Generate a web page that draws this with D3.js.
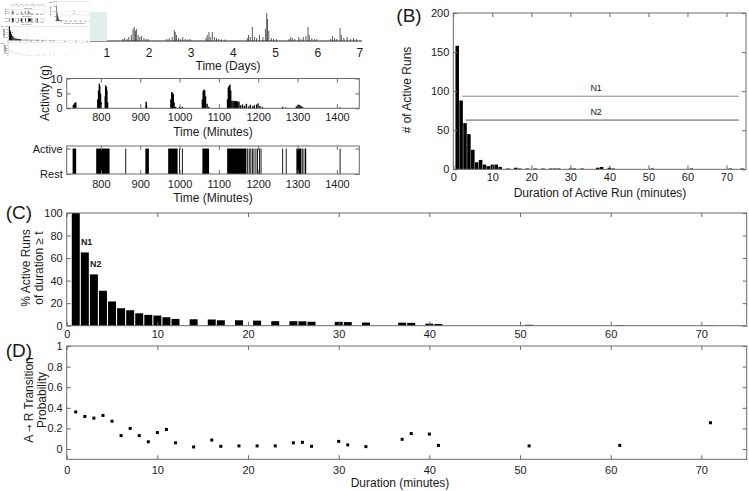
<!DOCTYPE html>
<html>
<head>
<meta charset="utf-8">
<script src="https://cdn.jsdelivr.net/npm/d3@7"></script>
<style>
  body { margin: 0; background: #fff; }
  text { font-family: 'Liberation Sans', Arial, sans-serif; }
</style>
</head>
<body>
<div id="app"></div>
<script>
'use strict'
// ---- data ----
// week-long trace: [day, activity g]
const weekSpikes = [
  [0.62, 2], [0.66, 4], [0.7, 1.5], [0.75, 3], [0.8, 2.5], [0.85, 1], [0.9, 1.5], [0.95, 1],
  [1.38, 1], [1.42, 1.5], [1.48, 1], [1.52, 2], [1.58, 3], [1.62, 6], [1.65, 7], [1.68, 5], [1.7, 6], [1.74, 3], [1.78, 2], [1.82, 2.5], [1.88, 1.5], [1.93, 1], [1.98, 1],
  [2.42, 1], [2.48, 1.5], [2.55, 2], [2.6, 5.5], [2.62, 4.5], [2.65, 3], [2.7, 1.5], [2.75, 1], [2.8, 2], [2.86, 1], [2.92, 0.8], [2.97, 1],
  [3.35, 1.5], [3.38, 3], [3.42, 4.5], [3.45, 2], [3.5, 4.5], [3.55, 2], [3.6, 1.5], [3.65, 1], [3.72, 0.8], [3.8, 0.8],
  [4.33, 1.5], [4.36, 3], [4.4, 2], [4.45, 7], [4.5, 2], [4.55, 1.5], [4.62, 3], [4.7, 2], [4.76, 6], [4.79, 14], [4.81, 11], [4.84, 5], [4.9, 1.5], [4.95, 1], [5.02, 1],
  [5.32, 1], [5.36, 2], [5.4, 1.5], [5.46, 1], [5.55, 2], [5.6, 1], [5.66, 2], [5.72, 2.5], [5.77, 7], [5.8, 3], [5.86, 1.5], [5.92, 1], [5.98, 1],
  [6.3, 1], [6.35, 2.5], [6.4, 1.5], [6.45, 1], [6.53, 6.5], [6.56, 3], [6.62, 1.5], [6.7, 2], [6.78, 1], [6.85, 1.5], [6.92, 1]
]
const dayTicks = [1, 2, 3, 4, 5, 6, 7]

// one afternoon: [minute, activity g]
const activity = [
  [730, 1.2], [733, 1.8], [736, 2.0],
  [792, 3], [794, 6], [796, 8.3], [797, 7.5], [799, 5], [801, 2],
  [811, 4], [812, 7.7], [814, 7.2], [815, 6], [817, 2],
  [915, 2.2], [916, 1],
  [978, 3], [980, 5.5], [982, 5.2], [984, 4.8], [986, 2], [990, 0.5], [1000, 0.5], [1007, 0.5],
  [1058, 3], [1060, 5.8], [1062, 6.3], [1064, 6], [1066, 4], [1070, 1.5], [1074, 0.5],
  [1122, 3], [1124, 7], [1126, 7.5], [1128, 8], [1130, 6], [1133, 2.5], [1136, 2.5], [1139, 2.4], [1142, 2.5], [1145, 2.4], [1148, 2.3], [1151, 2.2],
  [1155, 1], [1160, 1.3], [1165, 0.8], [1170, 1.5], [1176, 0.6], [1180, 1.2], [1186, 0.7], [1190, 1], [1196, 1.3], [1200, 1.6], [1204, 0.8], [1210, 0.4],
  [1262, 0.5], [1270, 0.3],
  [1297, 0.6], [1300, 1], [1303, 1.2], [1306, 1], [1309, 0.8], [1313, 0.4],
  [1408, 0.3]
]
// active runs: [start minute, end minute]
const activeRuns = [
  [728, 737], [788, 822], [862, 863], [913, 922], [971, 995], [999, 1000], [1006, 1007],
  [1058, 1075], [1121, 1170], [1172, 1174], [1176, 1177], [1180, 1182], [1184, 1185],
  [1188, 1190], [1193, 1194], [1197, 1199], [1202, 1204], [1206, 1207],
  [1261, 1262], [1270, 1271], [1297, 1310], [1312, 1315], [1318, 1322], [1407, 1408]
]
const minuteTicks = [800, 900, 1000, 1100, 1200, 1300, 1400]

// (B) histogram of run durations
const runDurations = [1, 2, 3, 4, 5, 6, 7, 8, 9, 10, 11, 12, 14, 16, 17, 19, 21, 23, 25, 26, 27, 30, 31, 33, 37, 38, 40, 41, 51, 61, 71, 74]
const runCounts = [158, 88, 59, 45, 25, 9, 12, 6, 4, 6, 6, 3, 1, 2, 1, 1, 1, 1, 1, 1, 1, 1, 1, 1, 2, 3, 2, 1, 1, 1, 1, 1]
const levelN1 = 93.5
const levelN2 = 63

// (C) survival, (D) transition probability
const durations = [1, 2, 3, 4, 5, 6, 7, 8, 9, 10, 11, 12, 14, 16, 17, 19, 21, 23, 25, 26, 27, 30, 31, 33, 37, 38, 40, 41, 51, 61, 71]
const pctAtLeast = [100, 65, 45.5, 31, 21.5, 15.5, 13.7, 11, 9.6, 9, 7.5, 6, 5.7, 5.5, 4.8, 4.8, 4.5, 4, 4, 3.9, 3.5, 3.4, 3.2, 2.8, 2.7, 2.5, 1.8, 1.5, 0.8, 0.5, 0.3]
const probAR = [0.36, 0.316, 0.30, 0.326, 0.27, 0.13, 0.20, 0.13, 0.07, 0.16, 0.19, 0.06, 0.02, 0.087, 0.026, 0.03, 0.03, 0.03, 0.06, 0.065, 0.026, 0.074, 0.04, 0.023, 0.094, 0.15, 0.145, 0.035, 0.03, 0.035, 0.255]
const durTicks = [0, 10, 20, 30, 40, 50, 60, 70]

const axisCol = '#6a6a6a'
const FONT = "'Liberation Sans', Arial, sans-serif"

const svg = d3.select('#app').append('svg')
  .attr('width', 749).attr('height', 491)

function label(g, txt, x, y, size, rot) {
  const t = g.append('text').text(txt)
    .attr('text-anchor', 'middle')
    .attr('dominant-baseline', 'central')
    .style('font-size', size + 'px')
    .attr('fill', '#1a1a1a')
  if (rot) t.attr('transform', `translate(${x},${y}) rotate(-90)`)
  else t.attr('x', x).attr('y', y)
  return t
}

// MATLAB-ish boxed axes with inward ticks on all four sides
function frame(g, x, y, xt, yt, xfmt, yfmt, pad) {
  const [x0, x1] = x.range()
  const [yb, yt0] = y.range()
  g.append('rect').attr('x', x0).attr('y', yt0).attr('width', x1 - x0).attr('height', yb - yt0)
    .attr('fill', 'none').attr('stroke', axisCol).attr('stroke-width', 1)
  const parts = [
    g.append('g').attr('transform', `translate(0,${yb})`)
      .call(d3.axisBottom(x).tickValues(xt).tickSize(-4).tickPadding(pad || 5).tickFormat(xfmt || d3.format('d'))),
    g.append('g').attr('transform', `translate(0,${yt0})`)
      .call(d3.axisTop(x).tickValues(xt).tickSize(-4).tickFormat('')),
    g.append('g').attr('transform', `translate(${x0},0)`)
      .call(d3.axisLeft(y).tickValues(yt).tickSize(-4).tickPadding(4).tickFormat(yfmt || d3.format('d'))),
    g.append('g').attr('transform', `translate(${x1},0)`)
      .call(d3.axisRight(y).tickValues(yt).tickSize(-4).tickFormat(''))
  ]
  parts.forEach(p => {
    p.select('.domain').remove()
    p.selectAll('line').attr('stroke', axisCol)
    p.selectAll('text').style('font-size', '11px').style('font-family', FONT).attr('fill', '#1a1a1a')
    p.attr('font-family', null)
  })
}

function drawFigure(root) {
  // ---- A1: week trace ----
  const xd = d3.scaleLinear([0.6, 7.05], [90, 362])
  const yd = d3.scaleLinear([0, 15], [41, 11])
  const a1 = root.append('g')
  a1.selectAll('line.sp').data(weekSpikes).enter().append('line')
    .attr('x1', d => xd(d[0])).attr('x2', d => xd(d[0]))
    .attr('y1', yd(0)).attr('y2', d => yd(d[1]))
    .attr('stroke', '#333').attr('stroke-width', 0.8)
  a1.append('line').attr('x1', xd.range()[0]).attr('x2', xd.range()[1])
    .attr('y1', yd(0)).attr('y2', yd(0)).attr('stroke', '#222')
  a1.selectAll('text.day').data(dayTicks).enter().append('text')
    .attr('x', d => xd(d)).attr('y', 53)
    .attr('text-anchor', 'middle').attr('dominant-baseline', 'central')
    .style('font-size', '12px').attr('fill', '#1a1a1a').text(d => d)
  label(a1, 'Time (Days)', 228, 66, 12)

  // ---- A2: activity ----
  const xm = d3.scaleLinear([713, 1457], [66.7, 359.3])
  const ya = d3.scaleLinear([0, 10], [108.3, 78.5])
  const a2 = root.append('g')
  a2.selectAll('line.act').data(activity).enter().append('line')
    .attr('x1', d => xm(d[0])).attr('x2', d => xm(d[0]))
    .attr('y1', ya(0)).attr('y2', d => ya(d[1]))
    .attr('stroke', '#000').attr('stroke-width', 1.4)
  frame(a2, xm, ya, minuteTicks, [0, 5, 10], null, null, 5)
  label(a2, 'Activity (g)', 45, 93, 12, true)
  label(a2, 'Time (Minutes)', 213, 132, 12)

  // ---- A3: active / rest raster ----
  const yr = d3.scaleLinear([0, 1.1], [174, 146])
  const a3 = root.append('g')
  a3.selectAll('rect.run').data(activeRuns).enter().append('rect')
    .attr('x', d => xm(d[0])).attr('width', d => Math.max(0.9, xm(d[1]) - xm(d[0])))
    .attr('y', yr(1)).attr('height', yr(0) - yr(1))
    .attr('fill', '#000')
  frame(a3, xm, yr, minuteTicks, [0, 1], null, d => d === 1 ? 'Active' : 'Rest', 6)
  label(a3, 'Time (Minutes)', 213, 198, 12)

  // ---- B: histogram ----
  const xb = d3.scaleLinear([0, 75], [453.3, 746])
  const yb = d3.scaleLinear([0, 200], [169.3, 13])
  const b = root.append('g')
  b.selectAll('rect.bar').data(runDurations).enter().append('rect')
    .attr('x', d => xb(d - 0.45)).attr('width', xb(0.9) - xb(0))
    .attr('y', (d, i) => yb(runCounts[i])).attr('height', (d, i) => yb(0) - yb(runCounts[i]))
    .attr('fill', '#000')
  b.append('line').attr('x1', xb(2.3)).attr('x2', xb(73.2)).attr('y1', yb(levelN1)).attr('y2', yb(levelN1))
    .attr('stroke', '#8a8a8a').attr('stroke-width', 1)
  b.append('line').attr('x1', xb(3.1)).attr('x2', xb(73.2)).attr('y1', yb(levelN2)).attr('y2', yb(levelN2))
    .attr('stroke', '#555').attr('stroke-width', 1)
  label(b, 'N1', xb(36.6), yb(levelN1) - 8, 9)
  label(b, 'N2', xb(36.6), yb(levelN2) - 8, 9)
  frame(b, xb, yb, durTicks, [0, 50, 100, 150, 200], null, null, 4)
  label(b, '(B)', 409, 15, 19)
  label(b, '# of Active Runs', 407, 90, 12, true)
  label(b, 'Duration of Active Run (minutes)', 600, 193, 12)

  // ---- C: survival ----
  const xc = d3.scaleLinear([0, 75], [66.7, 746.7])
  const yc = d3.scaleLinear([0, 100], [325.7, 213])
  const c = root.append('g')
  c.selectAll('rect.bar').data(durations).enter().append('rect')
    .attr('x', d => xc(d - 0.44)).attr('width', xc(0.88) - xc(0))
    .attr('y', (d, i) => yc(pctAtLeast[i])).attr('height', (d, i) => yc(0) - yc(pctAtLeast[i]))
    .attr('fill', '#000')
  frame(c, xc, yc, durTicks, [0, 20, 40, 60, 80, 100], null, null, 5)
  label(c, 'N1', xc(2.2), yc(pctAtLeast[1]) - 10, 9).attr('font-weight', 'bold')
  label(c, 'N2', xc(3.2), yc(pctAtLeast[2]) - 10, 9).attr('font-weight', 'bold')
  label(c, '(C)', 19, 212, 19)
  label(c, '% Active Runs', 26, 268, 12, true)
  label(c, 'of duration \u2265 t', 39, 268, 12, true)

  // ---- D: transition probability ----
  const yp = d3.scaleLinear([-0.1, 1], [459.3, 346])
  const dg = root.append('g')
  dg.selectAll('rect.pt').data(durations).enter().append('rect')
    .attr('x', d => xc(d) - 1.5).attr('width', 3)
    .attr('y', (d, i) => yp(probAR[i]) - 1.5).attr('height', 3)
    .attr('fill', '#000')
  frame(dg, xc, yp, durTicks, [0, 0.2, 0.4, 0.6, 0.8, 1], null, d => d === 0 || d === 1 ? d : d.toFixed(1), 7)
  label(dg, '(D)', 19, 350, 19)
  const arrowLbl = label(dg, '', 29, 400, 12, true)
  arrowLbl.append('tspan').text('A ')
  arrowLbl.append('tspan').style('font-family', "'DejaVu Sans', sans-serif").style('font-size', '9px').text('\u2192')
  arrowLbl.append('tspan').text(' R Transition')
  label(dg, 'Probability', 42, 400, 12, true)
  label(dg, 'Duration (minutes)', 400, 483, 12)
}

// full figure
drawFigure(svg.append('g'))

// small shrunken copy of the figure in the top-left corner
svg.append('defs').append('clipPath').attr('id', 'thumbClip')
  .append('rect').attr('x', 0).attr('y', 0).attr('width', 90).attr('height', 56)
const thumb = svg.append('g').attr('clip-path', 'url(#thumbClip)')
  .append('g').attr('transform', 'scale(0.124)')
thumb.append('rect').attr('width', 749).attr('height', 491).attr('fill', '#fff')
drawFigure(thumb)
svg.append('rect').attr('x', 90).attr('y', 12).attr('width', 17).attr('height', 29)
  .attr('fill', '#e3eded')
</script>
</body>
</html>
